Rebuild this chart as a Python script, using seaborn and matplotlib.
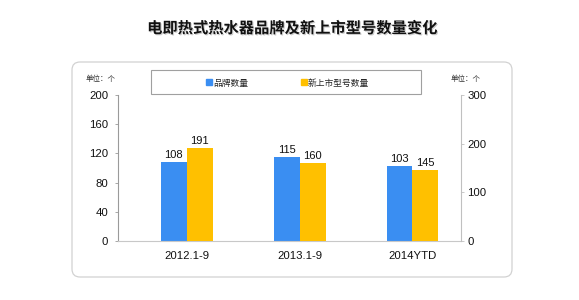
import matplotlib
matplotlib.use("Agg")
import matplotlib.pyplot as plt
import matplotlib.patheffects as pe
from matplotlib.patches import FancyBboxPatch, Rectangle, Patch
import seaborn as sns
import pandas as pd

# Data
periods = ["2012.1-9", "2013.1-9", "2014YTD"]
brand_counts = [108, 115, 103]
new_model_counts = [191, 160, 145]
series_names = ["品牌数量", "新上市型号数量"]
left_ticks = [0, 40, 80, 120, 160, 200]
right_ticks = [0, 100, 200, 300]
title_text = "电即热式热水器品牌及新上市型号数量变化"
unit_text = "单位：个"

BLUE = "#3A8EF2"
GOLD = "#FFC000"
SPINE = "#9a9a9a"

sns.set_style("white")
plt.rcParams["font.family"] = ["Liberation Sans", "Noto Sans CJK SC", "DejaVu Sans"]

brand_df = pd.DataFrame({"period": periods, "value": brand_counts, "series": series_names[0]})
model_df = pd.DataFrame({"period": periods, "value": new_model_counts, "series": series_names[1]})

fig = plt.figure(figsize=(5.79, 3.0), dpi=100)

# rounded panel behind the chart
panel = FancyBboxPatch((0.72, 0.23), 4.40, 2.15,
                       boxstyle="round,pad=0,rounding_size=0.08",
                       transform=fig.dpi_scale_trans, fc="white",
                       ec="#d2d2d2", lw=0.9, zorder=0)
fig.add_artist(panel)

ax = fig.add_axes([118 / 579, 1 - 241 / 300, 343 / 579, 146 / 300])
ax2 = ax.twinx()
ax.set_facecolor("none")
ax2.set_facecolor("none")

palette = {series_names[0]: BLUE, series_names[1]: GOLD}
common = dict(x="period", y="value", hue="series", hue_order=series_names,
              order=periods, palette=palette, width=0.46, saturation=1,
              errorbar=None, legend=False, linewidth=0, dodge=True)
sns.barplot(data=brand_df, ax=ax, **common)
sns.barplot(data=model_df, ax=ax2, **common)

for axis in (ax, ax2):
    for c in axis.containers:
        if len(c) > 0:
            axis.bar_label(c, fmt="%d", padding=1.5, fontsize=8, color="#111111")

ax.set_xlim(-0.61, 2.43)
ax.set_ylim(0, 200)
ax2.set_ylim(0, 300)
ax.set_yticks(left_ticks)
ax2.set_yticks(right_ticks)
ax.set_xlabel("")
ax.set_ylabel("")
ax2.set_xlabel("")
ax2.set_ylabel("")

for s in ("top", "right"):
    ax.spines[s].set_visible(False)
for s in ("top", "left", "bottom"):
    ax2.spines[s].set_visible(False)
ax.spines["left"].set_color(SPINE)
ax.spines["left"].set_linewidth(0.8)
ax.spines["bottom"].set_color("#c8c8c8")
ax.spines["bottom"].set_linewidth(0.8)
ax2.spines["right"].set_color("#c0c0c0")
ax2.spines["right"].set_linewidth(0.8)

ax.tick_params(axis="y", length=2, width=0.6, color=SPINE, pad=5,
               labelsize=8.2, labelcolor="#111111", left=True)
ax2.tick_params(axis="y", length=2, width=0.6, color="#c0c0c0", pad=2.5,
                labelsize=8.2, labelcolor="#111111", right=True)
ax.tick_params(axis="x", length=0, pad=7, labelsize=8.2, labelcolor="#111111")

# title
fig.text(292 / 579, 1 - 28 / 300, title_text, ha="center", va="center",
         fontsize=11, fontweight="bold", color="#111111",
         family=["Noto Sans CJK SC", "DejaVu Sans"],
         path_effects=[pe.withSimplePatchShadow(offset=(0.8, -0.8), shadow_rgbFace="#999999", alpha=0.5)])

# unit notes
fig.text(86 / 579, 1 - 79 / 300, unit_text, ha="left", va="center",
         fontsize=5.4, color="#333333", family=["Noto Sans CJK SC", "DejaVu Sans"])
fig.text(451 / 579, 1 - 79 / 300, unit_text, ha="left", va="center",
         fontsize=5.4, color="#333333", family=["Noto Sans CJK SC", "DejaVu Sans"])

# legend with its own rectangle frame
legend_frame = Rectangle((1.51, 2.06), 2.70, 0.24, transform=fig.dpi_scale_trans,
                         fc="white", ec="#a0a0a0", lw=0.8, zorder=1)
fig.add_artist(legend_frame)
handles = [Patch(color=BLUE, label=series_names[0]), Patch(color=GOLD, label=series_names[1])]
leg = fig.legend(handles=handles, ncol=2, loc="center",
                 bbox_to_anchor=(287.5 / 579, 1 - 83 / 300), frameon=False,
                 prop={"family": ["Noto Sans CJK SC", "DejaVu Sans"], "size": 6.3},
                 handlelength=0.7, handleheight=0.7, handletextpad=0.1,
                 columnspacing=6)
leg.set_zorder(2)

fig.savefig("out.png", dpi=100)
